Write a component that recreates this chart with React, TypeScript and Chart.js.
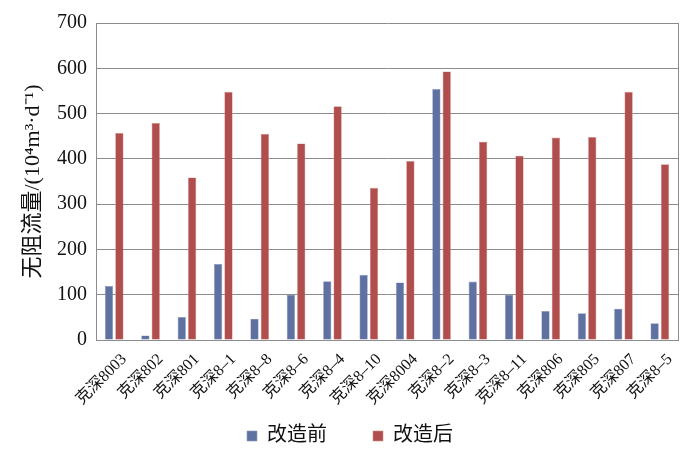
import React, { useEffect, useRef } from "react";
import { Chart, registerables } from "chart.js";

Chart.register(...registerables);

const categories = [
  "克深8003", "克深802", "克深801", "克深8–1", "克深8–8", "克深8–6", "克深8–4", "克深8–10",
  "克深8004", "克深8–2", "克深8–3", "克深8–11", "克深806", "克深805", "克深807", "克深8–5",
];
const beforeValues = [119, 10, 51, 168, 47, 100, 130, 144, 127, 554, 129, 100, 64, 59, 69, 37];
const afterValues = [457, 479, 359, 548, 455, 434, 516, 336, 395, 593, 438, 407, 447, 448, 548, 388];
const seriesNames = ["改造前", "改造后"];
const yTicks = [0, 100, 200, 300, 400, 500, 600, 700];
const yTitle = "无阻流量/(10⁴m³·d⁻¹)";

const FONT = "'Liberation Serif', 'Times New Roman', 'Noto Sans CJK SC', serif";

export default function App() {
  const ref = useRef<HTMLCanvasElement | null>(null);
  useEffect(() => {
    if (!ref.current) return;
    const unclip = {
      id: "unclipLabels",
      afterLayout(chart: any) {
        const x = chart.scales.x;
        if (x) x.bottom = chart.height;
      },
    };
    const chart = new Chart(ref.current, {
      type: "bar",
      data: {
        labels: categories,
        datasets: [
          {
            label: seriesNames[0],
            data: beforeValues,
            backgroundColor: "#5F71A0",
            borderColor: "#8C9AC0",
            borderWidth: 0.6,
            categoryPercentage: 0.57,
            barPercentage: 0.8,
          },
          {
            label: seriesNames[1],
            data: afterValues,
            backgroundColor: "#B04D4D",
            borderColor: "#D08A8A",
            borderWidth: 0.6,
            categoryPercentage: 0.57,
            barPercentage: 0.8,
          },
        ],
      },
      options: {
        animation: false,
        responsive: false,
        maintainAspectRatio: false,
        layout: { padding: { top: 23, right: 0, left: 0, bottom: 0 } },
        plugins: {
          tooltip: { enabled: false },
          legend: {
            display: true,
            position: "bottom",
            labels: {
              boxWidth: 10,
              boxHeight: 10,
              padding: 46,
              color: "#111",
              font: { family: FONT, size: 20 },
            },
          },
        },
        scales: {
          x: {
            afterFit(scale: any) {
              scale.height = 40;
            },
            grid: { display: false, drawTicks: false },
            border: { display: true, color: "#8c8c8c" },
            ticks: {
              color: "#111",
              font: { family: FONT, size: 16 },
              maxRotation: 45,
              minRotation: 45,
              autoSkip: false,
              padding: 10,
              labelOffset: 10,
            },
          },
          y: {
            min: 0,
            max: 700,
            afterFit(scale: any) {
              scale.width = 96;
            },
            afterBuildTicks(scale: any) {
              scale.ticks = yTicks.map((v) => ({ value: v }));
            },
            grid: { color: "#8c8c8c", lineWidth: 1, drawTicks: false },
            border: { display: true, color: "#8c8c8c" },
            ticks: {
              color: "#111",
              font: { family: FONT, size: 20 },
              padding: 9,
            },
            title: {
              display: true,
              text: yTitle,
              color: "#111",
              font: { family: FONT, size: 22 },
              padding: { top: 20, bottom: 0 },
            },
          },
          y2: {
            position: "right",
            min: 0,
            max: 700,
            afterFit(scale: any) {
              scale.width = 22;
            },
            grid: { display: false, drawTicks: false },
            border: { display: true, color: "#8c8c8c" },
            ticks: { display: false },
          },
        },
      },
      plugins: [unclip],
    });
    return () => chart.destroy();
  }, []);
  return (
    <div style={{ position: "fixed", left: 0, top: 0, width: 700, height: 456, background: "#fff" }}>
      <canvas ref={ref} width={700} height={456} style={{ width: 700, height: 456 }} />
    </div>
  );
}
